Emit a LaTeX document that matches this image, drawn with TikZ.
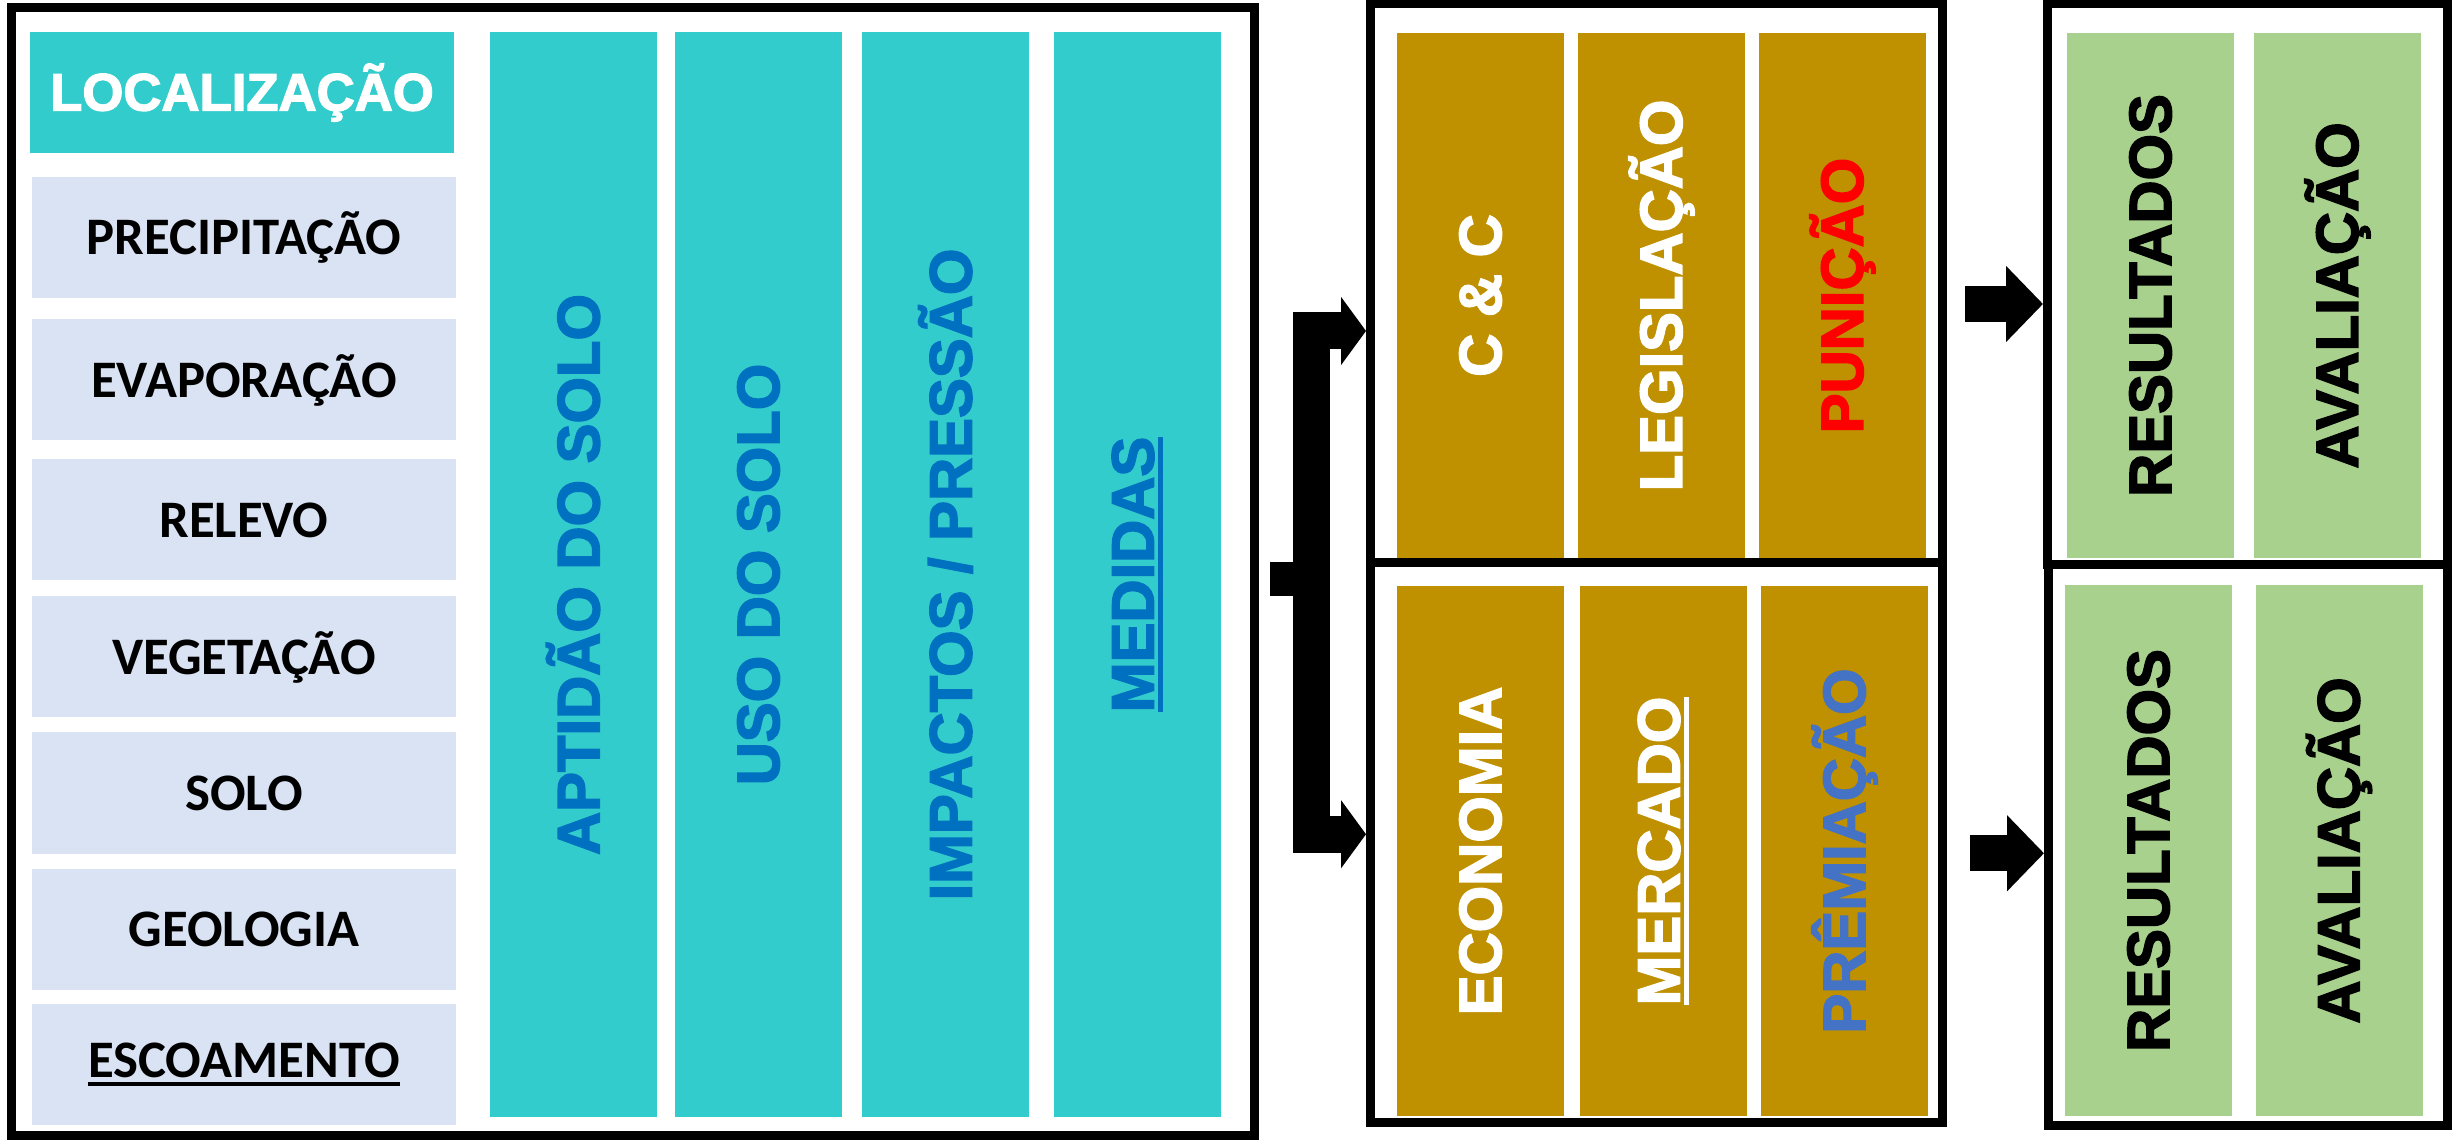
\documentclass[tikz,border=0pt]{standalone}
\usepackage{fontspec}
\usetikzlibrary{arrows.meta}

\newfontfamily\sidefamily{Carlito}
\newfontfamily\heavyfamily{Liberation Sans}[BoldFeatures={FakeBold=2.5}]

\definecolor{tealfill}{RGB}{51,204,204}
\definecolor{paleblue}{RGB}{218,227,243}
\definecolor{goldfill}{RGB}{191,144,0}
\definecolor{greenfill}{RGB}{169,209,142}
\definecolor{colblue}{RGB}{0,112,192}
\definecolor{prizeblue}{RGB}{68,114,196}

\newcommand{\thickul}[1]{\setbox0\hbox{#1}\leavevmode\rlap{\rule[-0.16em]{\wd0}{0.08em}}\box0}

\tikzset{
  frame/.style={draw=black, line width=0.09cm, inner sep=0pt},
  sidebox/.style={fill=paleblue, minimum width=4.24cm, minimum height=1.21cm, inner sep=0pt,
    font=\sidefamily\bfseries\fontsize{15}{18}\selectfont},
  tealcol/.style={fill=tealfill, rotate=90, minimum width=10.85cm, minimum height=1.67cm, inner sep=0pt,
    font=\heavyfamily\bfseries\fontsize{17}{20}\selectfont, text=colblue},
  goldcol/.style={fill=goldfill, rotate=90, minimum height=1.67cm, inner sep=0pt,
    font=\heavyfamily\bfseries\fontsize{17}{20}\selectfont, text=white},
  greencol/.style={fill=greenfill, rotate=90, minimum height=1.67cm, inner sep=0pt,
    font=\heavyfamily\bfseries\fontsize{17}{20}\selectfont, text=black},
  blockarrow/.style={line width=0.36cm, -{Triangle[width=0.74cm,length=0.37cm]}},
  forkarrow/.style={line width=0.37cm, -{Triangle[width=0.67cm,length=0.25cm]}},
}

\begin{document}
\begin{tikzpicture}

\useasboundingbox (0,0) rectangle (24.63,11.40);
\fill[white] (0,0) rectangle (24.63,11.40);

% Frames
\node[frame, minimum width=12.425cm, minimum height=11.28cm] (leftbox) at (6.3275,5.685) {};
\node[frame, minimum width=5.72cm, minimum height=5.59cm] (midtop) at (16.565,8.57) {};
\node[frame, minimum width=5.72cm, minimum height=5.595cm] (midbot) at (16.565,2.9775) {};
\node[frame, minimum width=3.995cm, minimum height=5.61cm] (restop) at (22.4725,8.56) {};
\node[frame, minimum width=3.99cm, minimum height=5.61cm] (resbot) at (22.48,2.95) {};

% Physical factors
\node[fill=tealfill, minimum width=4.24cm, minimum height=1.21cm, inner sep=0pt, text=white,
  font=\heavyfamily\bfseries\fontsize{15}{18}\selectfont] (loc) at (2.42,10.475) {LOCALIZAÇÃO};
\foreach \lbl/\y [count=\i] in {PRECIPITAÇÃO/9.025, EVAPORAÇÃO/7.60, RELEVO/6.20, VEGETAÇÃO/4.83,
    SOLO/3.47, GEOLOGIA/2.11, \thickul{ESCOAMENTO}/0.755}
  \node[sidebox] (side\i) at (2.44,\y) {\lbl};

% Land columns
\node[tealcol] (aptidao) at (5.73,5.655) {APTIDÃO DO SOLO};
\node[tealcol] (uso) at (7.585,5.655) {USO DO SOLO};
\node[tealcol] (impactos) at (9.455,5.655) {IMPACTOS / PRESSÃO};
\node[tealcol] (medidas) at (11.375,5.655) {\thickul{MEDIDAS}};

% Instruments
\node[goldcol, minimum width=5.25cm] (cc) at (14.805,8.445) {C \& C};
\node[goldcol, minimum width=5.25cm] (legis) at (16.615,8.445) {LEGISLAÇÃO};
\node[goldcol, minimum width=5.25cm, text=red] (puni) at (18.425,8.445) {PUNIÇÃO};
\node[goldcol, minimum width=5.30cm] (econ) at (14.805,2.89) {ECONOMIA};
\node[goldcol, minimum width=5.30cm] (merc) at (16.635,2.89) {\thickul{MERCADO}};
\node[goldcol, minimum width=5.30cm, text=prizeblue] (prem) at (18.445,2.89) {PRÊMIAÇÃO};

% Outcomes
\node[greencol, minimum width=5.25cm] (res1) at (21.505,8.445) {RESULTADOS};
\node[greencol, minimum width=5.25cm] (ava1) at (23.375,8.445) {AVALIAÇÃO};
\node[greencol, minimum width=5.31cm] (res2) at (21.485,2.895) {RESULTADOS};
\node[greencol, minimum width=5.31cm] (ava2) at (23.39,2.895) {AVALIAÇÃO};

% Fork
\coordinate (fork) at ([xshift=0.525cm,yshift=-0.075cm]leftbox.east);
\draw[line width=0.34cm] ([xshift=0.115cm,yshift=-0.075cm]leftbox.east) -- (fork);
\draw[forkarrow] (fork) |- ([yshift=-0.48cm]midtop.west);
\draw[forkarrow] (fork) |- ([yshift=0.08cm]midbot.west);

% Arrows to outcomes
\coordinate (a1) at ([xshift=0.18cm,yshift=-0.21cm]midtop.east);
\draw[blockarrow] (a1) -- (a1 -| restop.west);
\coordinate (a2) at ([xshift=0.23cm,yshift=-0.11cm]midbot.east);
\draw[blockarrow] (a2) -- (a2 -| resbot.west);

\end{tikzpicture}
\end{document}
